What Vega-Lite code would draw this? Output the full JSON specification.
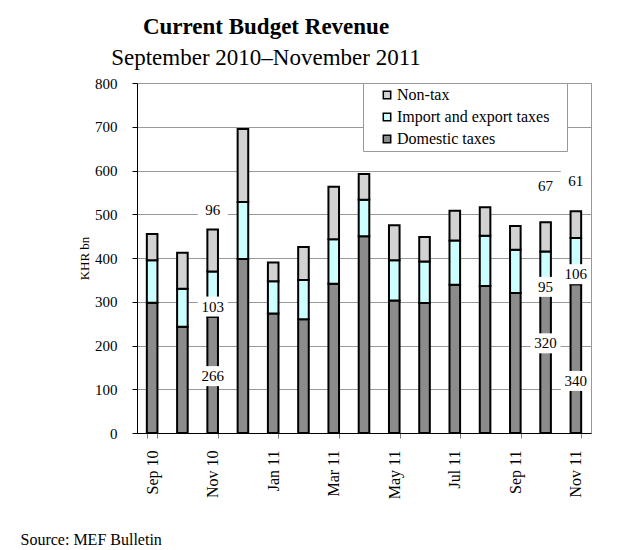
{
  "$schema": "https://vega.github.io/schema/vega-lite/v6.json",
  "autosize": "none",
  "width": 454,
  "height": 350,
  "padding": {"left": 137, "top": 83, "right": 43, "bottom": 117},
  "background": "white",
  "config": {"font": "Liberation Serif", "view": {"stroke": "#999999", "strokeWidth": 1}},
  "title": {
    "text": "Current Budget Revenue",
    "subtitle": "September 2010–November 2011",
    "font": "Liberation Serif", "fontSize": 23, "fontWeight": "bold", "color": "black",
    "subtitleFont": "Liberation Serif", "subtitleFontSize": 23, "subtitleColor": "black",
    "anchor": "middle", "dx": -98, "offset": 6, "subtitlePadding": 8
  },
  "datasets": {
    "rev": [
      {"month": "Sep 10", "series": "Domestic taxes", "value": 298},
      {"month": "Sep 10", "series": "Import and export taxes", "value": 97},
      {"month": "Sep 10", "series": "Non-tax", "value": 60},
      {"month": "Oct 10", "series": "Domestic taxes", "value": 243},
      {"month": "Oct 10", "series": "Import and export taxes", "value": 87},
      {"month": "Oct 10", "series": "Non-tax", "value": 82},
      {"month": "Nov 10", "series": "Domestic taxes", "value": 266},
      {"month": "Nov 10", "series": "Import and export taxes", "value": 103},
      {"month": "Nov 10", "series": "Non-tax", "value": 96},
      {"month": "Dec 10", "series": "Domestic taxes", "value": 398},
      {"month": "Dec 10", "series": "Import and export taxes", "value": 130},
      {"month": "Dec 10", "series": "Non-tax", "value": 167},
      {"month": "Jan 11", "series": "Domestic taxes", "value": 273},
      {"month": "Jan 11", "series": "Import and export taxes", "value": 74},
      {"month": "Jan 11", "series": "Non-tax", "value": 43},
      {"month": "Feb 11", "series": "Domestic taxes", "value": 260},
      {"month": "Feb 11", "series": "Import and export taxes", "value": 90},
      {"month": "Feb 11", "series": "Non-tax", "value": 75},
      {"month": "Mar 11", "series": "Domestic taxes", "value": 341},
      {"month": "Mar 11", "series": "Import and export taxes", "value": 102},
      {"month": "Mar 11", "series": "Non-tax", "value": 120},
      {"month": "Apr 11", "series": "Domestic taxes", "value": 450},
      {"month": "Apr 11", "series": "Import and export taxes", "value": 83},
      {"month": "Apr 11", "series": "Non-tax", "value": 59},
      {"month": "May 11", "series": "Domestic taxes", "value": 303},
      {"month": "May 11", "series": "Import and export taxes", "value": 92},
      {"month": "May 11", "series": "Non-tax", "value": 80},
      {"month": "Jun 11", "series": "Domestic taxes", "value": 297},
      {"month": "Jun 11", "series": "Import and export taxes", "value": 95},
      {"month": "Jun 11", "series": "Non-tax", "value": 56},
      {"month": "Jul 11", "series": "Domestic taxes", "value": 339},
      {"month": "Jul 11", "series": "Import and export taxes", "value": 101},
      {"month": "Jul 11", "series": "Non-tax", "value": 68},
      {"month": "Aug 11", "series": "Domestic taxes", "value": 336},
      {"month": "Aug 11", "series": "Import and export taxes", "value": 115},
      {"month": "Aug 11", "series": "Non-tax", "value": 65},
      {"month": "Sep 11", "series": "Domestic taxes", "value": 320},
      {"month": "Sep 11", "series": "Import and export taxes", "value": 99},
      {"month": "Sep 11", "series": "Non-tax", "value": 54},
      {"month": "Oct 11", "series": "Domestic taxes", "value": 320},
      {"month": "Oct 11", "series": "Import and export taxes", "value": 95},
      {"month": "Oct 11", "series": "Non-tax", "value": 67},
      {"month": "Nov 11", "series": "Domestic taxes", "value": 340},
      {"month": "Nov 11", "series": "Import and export taxes", "value": 106},
      {"month": "Nov 11", "series": "Non-tax", "value": 61}
    ],
    "labels": [
      {"month": "Nov 10", "label": "96", "at": 510},
      {"month": "Nov 10", "label": "103", "at": 289},
      {"month": "Nov 10", "label": "266", "at": 130},
      {"month": "Oct 11", "label": "67", "at": 565},
      {"month": "Oct 11", "label": "95", "at": 334},
      {"month": "Oct 11", "label": "320", "at": 205},
      {"month": "Nov 11", "label": "61", "at": 577},
      {"month": "Nov 11", "label": "106", "at": 363},
      {"month": "Nov 11", "label": "340", "at": 119}
    ]
  },
  "layer": [
    {
      "data": {"name": "rev"},
      "transform": [{"calculate": "indexof(['Domestic taxes','Import and export taxes','Non-tax'], datum.series)", "as": "ord"}],
      "mark": {"type": "bar", "stroke": "black", "strokeWidth": 2},
      "encoding": {
        "x": {
          "field": "month", "type": "ordinal", "sort": null,
          "scale": {"domain": ["Sep 10","Oct 10","Nov 10","Dec 10","Jan 11","Feb 11","Mar 11","Apr 11","May 11","Jun 11","Jul 11","Aug 11","Sep 11","Oct 11","Nov 11"], "paddingInner": 0.65, "paddingOuter": 0.325},
          "axis": {
            "values": ["Sep 10","Nov 10","Jan 11","Mar 11","May 11","Jul 11","Sep 11","Nov 11"],
            "tickBand": "extent", "labelAngle": -90, "labelAlign": "right", "labelBaseline": "middle",
            "labelFont": "Liberation Serif", "labelFontSize": 16, "labelColor": "black",
            "tickSize": 5, "tickColor": "#808080", "domainColor": "black", "labelPadding": 12, "grid": false,
            "title": "Source: MEF Bulletin", "titleX": -117, "titleY": 111, "titleAlign": "left", "titleAnchor": "start",
            "titleBaseline": "alphabetic", "titleFontWeight": "normal", "titleFontSize": 16, "titleFont": "Liberation Serif", "titleColor": "black"
          }
        },
        "y": {
          "field": "value", "type": "quantitative", "stack": "zero",
          "scale": {"domain": [0, 800], "nice": false},
          "axis": {
            "values": [0,100,200,300,400,500,600,700,800],
            "tickSize": 5, "tickColor": "black", "domainColor": "black", "labelPadding": 15,
            "labelFont": "Liberation Serif", "labelFontSize": 15, "labelColor": "black",
            "gridColor": "#999999", "title": "KHR bn", "titleFont": "Liberation Serif", "titleFontWeight": "normal",
            "titleFontSize": 13, "titleColor": "black", "titlePadding": 3
          }
        },
        "color": {
          "field": "series", "type": "nominal",
          "scale": {"domain": ["Non-tax", "Import and export taxes", "Domestic taxes"], "range": ["#d2d2d2", "#ccffff", "#8c8c8c"]},
          "legend": {
            "orient": "none", "legendX": 226, "legendY": 0,
            "title": "\u00a0", "titleOrient": "right", "titlePadding": 14, "titleFontSize": 6,
            "fillColor": "white", "strokeColor": "#999999", "padding": 4,
            "symbolType": "square", "symbolSize": 55, "symbolStrokeColor": "black", "symbolStrokeWidth": 1.5, "symbolOpacity": 1,
            "symbolOffset": 12, "labelOffset": 2,
            "labelFont": "Liberation Serif", "labelFontSize": 16, "labelColor": "black", "rowPadding": 6, "labelLimit": 400
          }
        },
        "order": {"field": "ord", "type": "quantitative"}
      }
    },
    {
      "data": {"name": "labels"},
      "mark": {"type": "point", "shape": "M-1.5,-1H1.5V1H-1.5Z", "filled": true, "fill": "white", "opacity": 1, "size": 400, "strokeWidth": 0},
      "encoding": {
        "x": {"field": "month", "type": "ordinal", "sort": null},
        "y": {"field": "at", "type": "quantitative"}
      }
    },
    {
      "data": {"name": "labels"},
      "mark": {"type": "text", "font": "Liberation Serif", "fontSize": 15, "baseline": "middle", "color": "black"},
      "encoding": {
        "x": {"field": "month", "type": "ordinal", "sort": null},
        "y": {"field": "at", "type": "quantitative"},
        "text": {"field": "label"}
      }
    }
  ]
}
